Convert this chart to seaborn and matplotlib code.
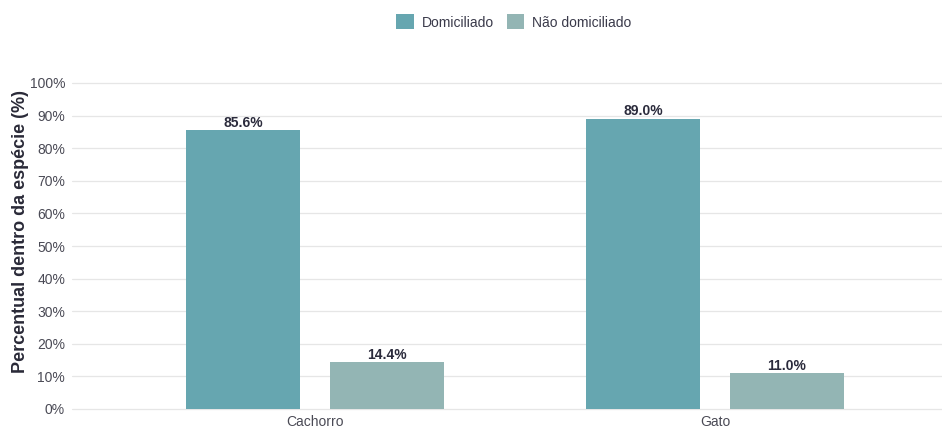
import matplotlib
matplotlib.use("Agg")
import matplotlib.pyplot as plt
import seaborn as sns
import pandas as pd
from matplotlib.patches import Patch
from matplotlib.ticker import FuncFormatter

especies = ["Cachorro", "Gato"]
situacoes = ["Domiciliado", "Não domiciliado"]
pct_domiciliado = [85.6, 89.0]
pct_nao_domiciliado = [14.4, 11.0]
cores = {"Domiciliado": "#66a6b0", "Não domiciliado": "#93b5b4"}

df = pd.DataFrame({
    "especie": especies * 2,
    "situacao": [situacoes[0]] * len(especies) + [situacoes[1]] * len(especies),
    "pct": pct_domiciliado + pct_nao_domiciliado,
})

sns.set_theme(style="white")
plt.rcParams["font.family"] = ["Liberation Sans", "DejaVu Sans"]

fig = plt.figure(figsize=(9.42, 4.28), dpi=100)
ax = fig.add_axes([72 / 942, 19 / 428, 870 / 942, 326 / 428])

sns.barplot(data=df, x="especie", y="pct", hue="situacao", order=especies,
            hue_order=situacoes, palette=cores, width=0.72, gap=0.21,
            saturation=1, errorbar=None, legend=False, linewidth=0, ax=ax)

for cont, vals in zip(ax.containers, [pct_domiciliado, pct_nao_domiciliado]):
    ax.bar_label(cont, labels=[f"{v:.1f}%" for v in vals], padding=0.3,
                 fontsize=10, fontweight="bold", color="#2b2b3c")

ax.set_xlim(-0.6075, 1.5675)
ax.set_ylim(0, 100)
ax.set_yticks(range(0, 101, 10))
ax.yaxis.set_major_formatter(FuncFormatter(lambda v, _: f"{v:.0f}%"))
ax.grid(axis="y", color="#e6e6e6", linewidth=0.9)
ax.set_axisbelow(True)
for ln in ax.get_ygridlines():
    ln.set_clip_on(False)
for s in ax.spines.values():
    s.set_visible(False)
ax.tick_params(axis="both", length=0, labelsize=10, labelcolor="#4a4a55", pad=5)
ax.tick_params(axis="x", pad=4)
ax.set_xlabel("")
ax.set_ylabel("Percentual dentro da espécie (%)", fontsize=13, fontweight="bold",
              color="#2a2a38")
ax.yaxis.set_label_coords(-0.049, 0.543)

handles = [Patch(facecolor=cores[s], edgecolor="none") for s in situacoes]
fig.legend(handles, situacoes, loc="center", bbox_to_anchor=(514 / 942, 1 - 22 / 428),
           ncol=2, frameon=False, fontsize=10, handlelength=1.25, handleheight=1.25,
           handletextpad=0.6, columnspacing=0.9, labelcolor="#3a3a4a")

fig.savefig("out.png", dpi=100, facecolor="white")
